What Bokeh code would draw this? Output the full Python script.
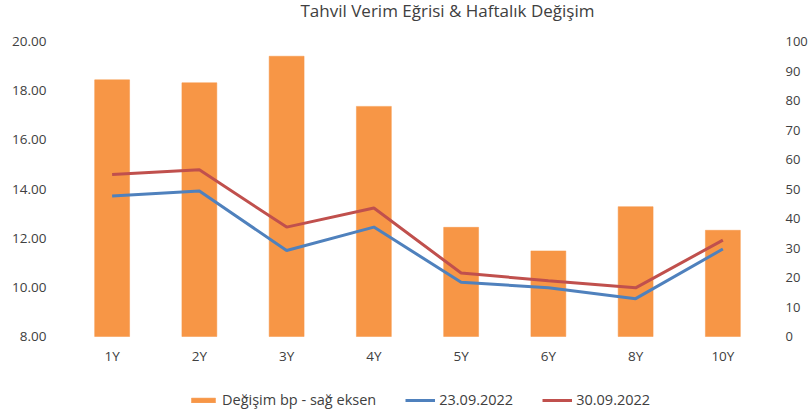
from bokeh.plotting import figure
from bokeh.models import (Range1d, LinearAxis, FixedTicker, NumeralTickFormatter,
                          Legend, LegendItem, Label, FactorRange)
from bokeh.core.properties import value
from bokeh.embed import file_html
from bokeh.resources import INLINE

# ---- data ----
tenors = ["1Y", "2Y", "3Y", "4Y", "5Y", "6Y", "8Y", "10Y"]
change_bp = [87, 86, 95, 78, 37, 29, 44, 36]
yield_2309 = [13.72, 13.92, 11.50, 12.45, 10.21, 9.98, 9.54, 11.56]
yield_3009 = [14.59, 14.78, 12.45, 13.23, 10.58, 10.27, 9.98, 11.92]
left_ticks = [8, 10, 12, 14, 16, 18, 20]
right_ticks = [0, 10, 20, 30, 40, 50, 60, 70, 80, 90, 100]
title_text = "Tahvil Verim Eğrisi & Haftalık Değişim"
legend_labels = ["Değişim bp - sağ eksen", "23.09.2022", "30.09.2022"]

FONT = "Open Sans"
TXT = "#404040"
ORANGE = "#F79646"
BLUE = "#4F81BD"
RED = "#C0504D"

# ---- layout (pixels) ----
PLOT_H = 295          # pixel span between lowest and highest tick
TOP_PAD = 41          # space above the top tick (title area)
BOT_PAD = 73          # space below the bottom tick (x labels + legend)
left_lo, left_hi = left_ticks[0], left_ticks[-1]
right_lo, right_hi = right_ticks[0], right_ticks[-1]
lpp = (left_hi - left_lo) / PLOT_H     # left units per pixel
rpp = (right_hi - right_lo) / PLOT_H   # right units per pixel

p = figure(frame_width=698, frame_height=PLOT_H + TOP_PAD + BOT_PAD,
           x_range=FactorRange(*tenors),
           y_range=Range1d(left_lo - BOT_PAD * lpp, left_hi + TOP_PAD * lpp),
           output_backend="svg", toolbar_location=None,
           min_border_left=68, min_border_right=30, min_border_top=0,
           min_border_bottom=0, outline_line_color=None)
p.extra_y_ranges = {"right": Range1d(right_lo - BOT_PAD * rpp, right_hi + TOP_PAD * rpp)}

bars = p.vbar(x=tenors, top=change_bp, bottom=right_lo, width=0.4, y_range_name="right",
              fill_color=ORANGE, line_color=ORANGE, line_alpha=0.5)
l1 = p.line(x=tenors, y=yield_2309, line_color=BLUE, line_width=3)
l2 = p.line(x=tenors, y=yield_3009, line_color=RED, line_width=3)

p.xgrid.grid_line_color = None
p.ygrid.grid_line_color = None
p.xaxis.visible = False

# category labels under the bars
p.text(x=tenors, y=[left_lo - 19 * lpp] * len(tenors), text=tenors,
       text_align="center", text_baseline="middle", text_font=value(FONT),
       text_font_size=value("13.5px"), text_color=TXT)

# left axis
ya = p.yaxis[0]
ya.ticker = FixedTicker(ticks=left_ticks)
ya.formatter = NumeralTickFormatter(format="0.00")

# right axis
ra = LinearAxis(y_range_name="right", ticker=FixedTicker(ticks=right_ticks))
p.add_layout(ra, "right")

for ax in [ya, ra]:
    ax.axis_line_color = None
    ax.major_tick_line_color = None
    ax.minor_tick_line_color = None
    ax.major_label_text_font = FONT
    ax.major_label_text_font_size = "13.5px"
    ax.major_label_text_color = TXT
ra.major_label_text_font_size = "13px"
ya.major_label_standoff = 16
ra.major_label_standoff = 13

# title
p.add_layout(Label(x=len(tenors) / 2, y=left_hi + 31.5 * lpp, x_offset=30,
                   text=title_text, text_align="center", text_baseline="middle",
                   text_font=FONT, text_font_size="17px", text_color=TXT))

legend = Legend(items=[
    LegendItem(label=legend_labels[0], renderers=[bars]),
    LegendItem(label=legend_labels[1], renderers=[l1]),
    LegendItem(label=legend_labels[2], renderers=[l2]),
], orientation="horizontal", location=(120, 0), glyph_width=30, glyph_height=6,
    label_standoff=4, spacing=29, padding=2, margin=0, border_line_color=None,
    background_fill_alpha=0, label_text_font=FONT, label_text_font_size="14.5px",
    label_text_color=TXT, label_height=16)
p.add_layout(legend, "center")

open("out.html", "w").write(file_html(p, INLINE))
